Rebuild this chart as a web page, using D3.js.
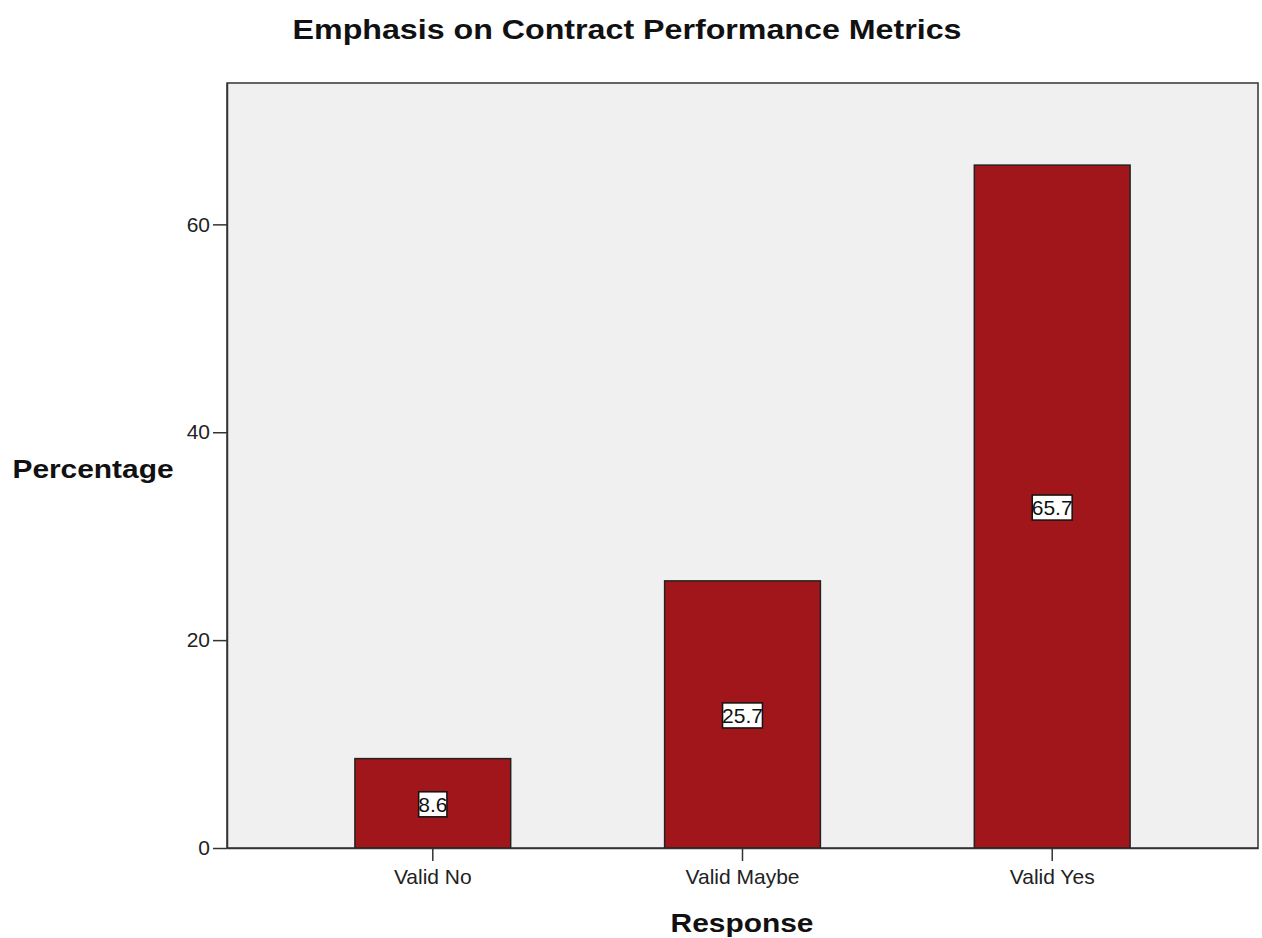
<!DOCTYPE html>
<html>
<head>
<meta charset="utf-8">
<script src="https://cdn.jsdelivr.net/npm/d3@7"></script>
<style>
  html, body { margin: 0; padding: 0; background: #ffffff; }
  svg { display: block; font-family: "Liberation Sans", Arial, sans-serif; }
</style>
</head>
<body>
<svg id="chart" width="1262" height="938"></svg>
<script>
// Survey responses and their percentages
const categories = ["Valid No", "Valid Maybe", "Valid Yes"];
const percentages = [8.6, 25.7, 65.7];
const yTicks = [0, 20, 40, 60];

const svg = d3.select("#chart");
const plot = { left: 227, top: 83, right: 1258, bottom: 848 };
const FONT = "'Liberation Sans', Arial, sans-serif";

const x = d3.scaleBand()
  .domain(categories)
  .range([plot.left, plot.right])
  .paddingInner(0.497)
  .paddingOuter(0.413);

const y = d3.scaleLinear()
  .domain([0, 73.6])
  .range([plot.bottom, plot.top]);

// Plot background
svg.append("rect")
  .attr("x", plot.left).attr("y", plot.top)
  .attr("width", plot.right - plot.left).attr("height", plot.bottom - plot.top)
  .attr("fill", "#f0f0f0")
  .attr("stroke", "#333")
  .attr("stroke-width", 1.5);

// Bars
svg.selectAll("rect.bar")
  .data(percentages)
  .join("rect")
  .attr("class", "bar")
  .attr("x", (d, i) => x(categories[i]))
  .attr("y", d => y(d))
  .attr("width", x.bandwidth())
  .attr("height", d => y(0) - y(d))
  .attr("fill", "#a0161a")
  .attr("stroke", "#222")
  .attr("stroke-width", 1.5);

// Value labels in tight white boxes at mid-height of each bar
const defs = svg.append("defs");
const labels = svg.selectAll("g.vlabel")
  .data(percentages)
  .join("g")
  .attr("class", "vlabel")
  .attr("transform", (d, i) => `translate(${x(categories[i]) + x.bandwidth() / 2},${y(d / 2) + 1})`);

labels.each(function (d, i) {
  const g = d3.select(this);
  const box = g.append("rect").attr("fill", "#fff");
  const t = g.append("text")
    .attr("text-anchor", "middle")
    .attr("dy", "0.36em")
    .attr("font-size", 21)
    .attr("fill", "#111")
    .text(d.toFixed(1));
  const w = t.node().getComputedTextLength() - 1;
  const bx = -w / 2, by = -12.5, bh = 25;
  box.attr("x", bx).attr("y", by).attr("width", w).attr("height", bh);
  defs.append("clipPath").attr("id", "clip" + i)
    .append("rect").attr("x", bx).attr("y", by).attr("width", w).attr("height", bh);
  t.attr("clip-path", `url(#clip${i})`);
  g.append("rect")
    .attr("x", bx).attr("y", by).attr("width", w).attr("height", bh)
    .attr("fill", "none").attr("stroke", "#111").attr("stroke-width", 1.5);
});

// Y axis
const yAxis = svg.append("g")
  .attr("transform", `translate(${plot.left},0)`)
  .call(d3.axisLeft(y).tickValues(yTicks).tickSize(14).tickSizeOuter(0).tickPadding(3)
    .tickFormat(d3.format("d")));
yAxis.select(".domain").attr("stroke", "#333").attr("stroke-width", 1.5);
yAxis.selectAll(".tick line").attr("stroke", "#333").attr("stroke-width", 1.5);
yAxis.selectAll(".tick text")
  .attr("font-size", 21).attr("fill", "#222").attr("font-family", FONT);

// X axis
const xAxis = svg.append("g")
  .attr("transform", `translate(0,${plot.bottom})`)
  .call(d3.axisBottom(x).tickSize(13).tickSizeOuter(0).tickPadding(8));
xAxis.select(".domain").attr("stroke", "#333").attr("stroke-width", 1.5);
xAxis.selectAll(".tick line").attr("stroke", "#333").attr("stroke-width", 1.5);
xAxis.selectAll(".tick text")
  .attr("font-size", 21).attr("fill", "#222").attr("font-family", FONT);

// Title and axis titles (slightly widened bold face)
function boldTitle(text, cx, baseline, size) {
  svg.append("text")
    .attr("transform", `translate(${cx},${baseline}) scale(1.15,1)`)
    .attr("text-anchor", "middle")
    .attr("font-size", size).attr("font-weight", "bold").attr("fill", "#111")
    .text(text);
}
boldTitle("Emphasis on Contract Performance Metrics", 627, 38.5, 28);
boldTitle("Percentage", 93, 478, 26);
boldTitle("Response", 742, 932, 26);
</script>
</body>
</html>
